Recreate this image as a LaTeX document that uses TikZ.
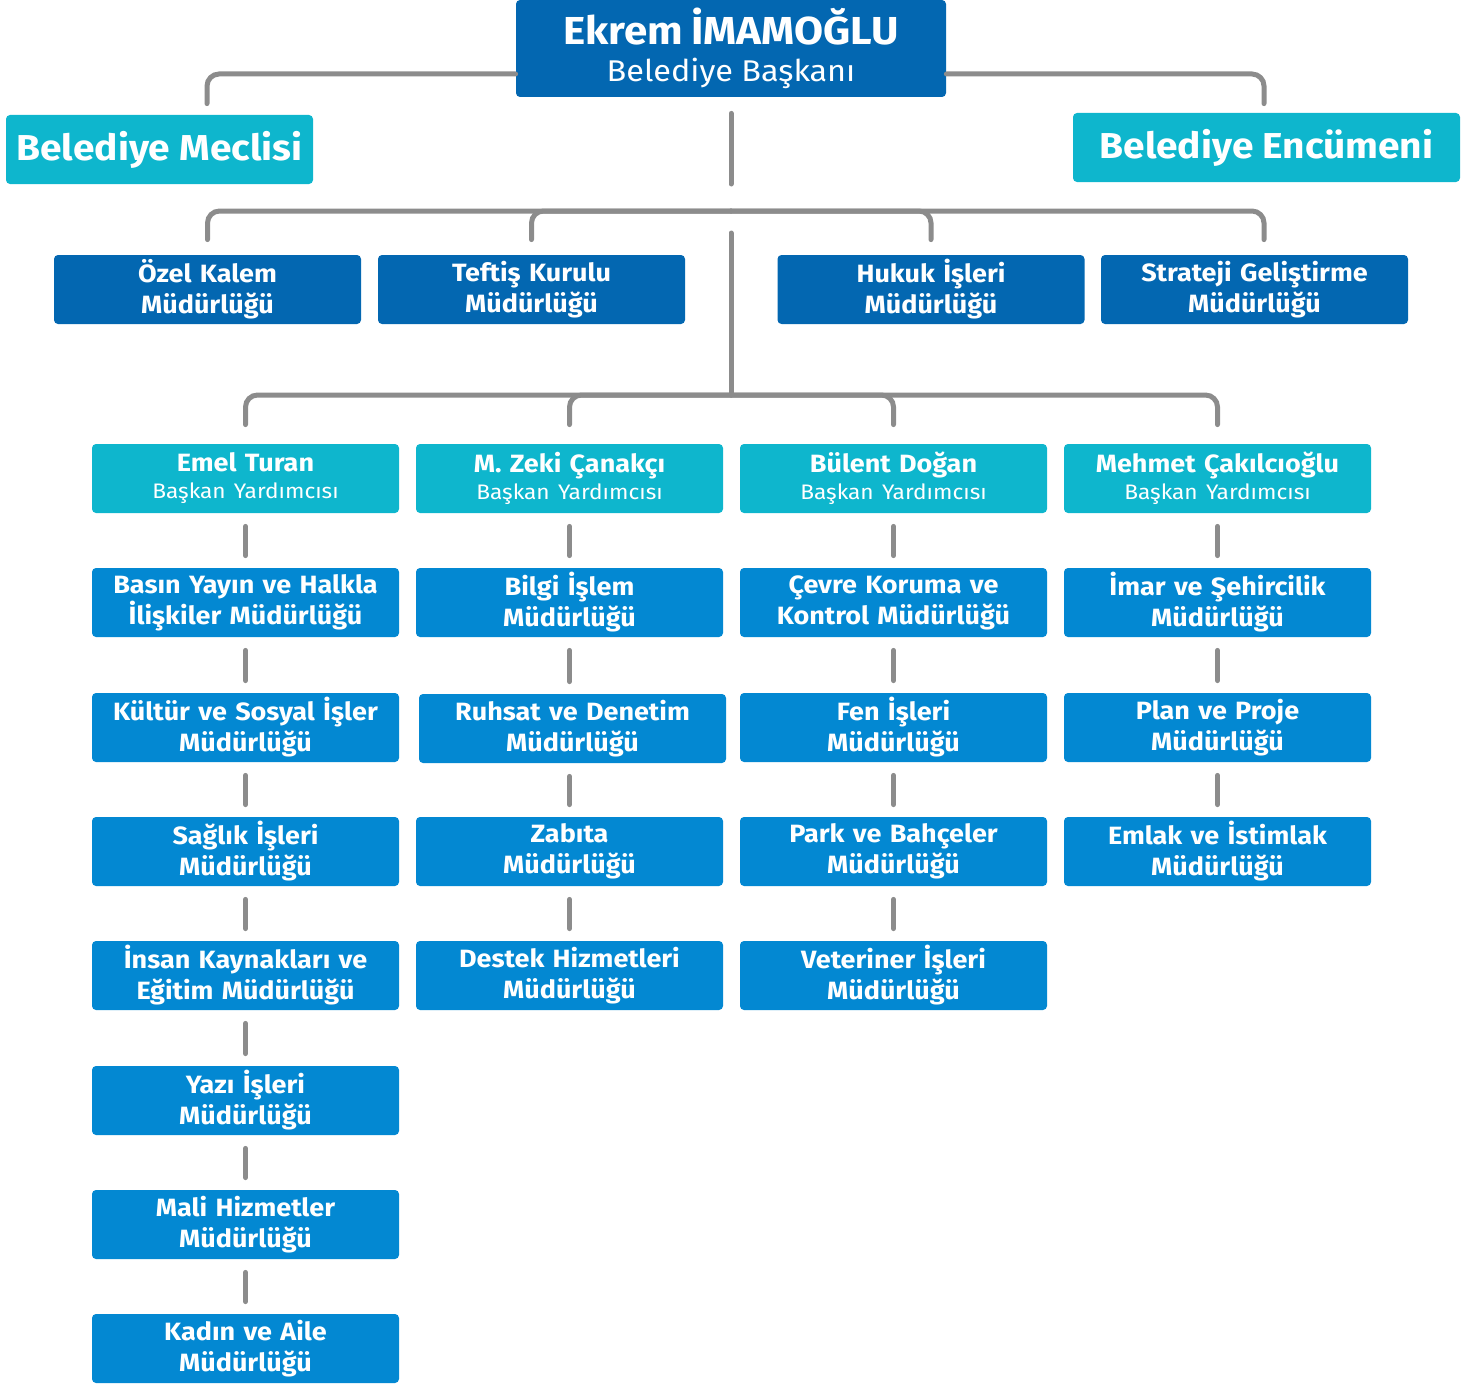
\documentclass[tikz,border=0pt]{standalone}
\usepackage{fontspec}
\setmainfont{Fira Sans}[FakeStretch=1.08]
\usetikzlibrary{positioning}
\definecolor{darkblue}{HTML}{0367B1}
\definecolor{midblue}{HTML}{0388D2}
\definecolor{teal}{HTML}{0EB6CD}
\definecolor{linegray}{HTML}{8C8C8C}
\begin{document}
\begin{tikzpicture}[x=0.5pt,y=-0.5pt,
    box/.style={rounded corners=2pt, text=white, align=center, text width=150pt,
      inner xsep=1.75pt, inner ysep=0pt, minimum height=34.5pt,
      font=\fontsize{12.5}{15.5}\selectfont\bfseries},
    topunit/.style={box, fill=darkblue},
    unit/.style={box, fill=midblue},
    deputy/.style={box, fill=teal},
    council/.style={rounded corners=2pt, fill=teal, text=white, inner sep=0pt,
      minimum height=34.5pt, font=\fontsize{18}{20}\selectfont\bfseries},
    link/.style={draw=linegray, line width=2.5pt, line cap=round, rounded corners=6pt}]

            \useasboundingbox (0,0) rectangle (1478,1386);

            \node[box, fill=darkblue, text width=211.5pt, minimum height=48.5pt] (mayor) at (731,48.5)
                {{\fontsize{19.5}{19.5}\selectfont\bfseries Ekrem İMAMOĞLU}\\[3pt]{\fontsize{15}{16}\selectfont\mdseries Belediye Başkanı}};

            \node[council, minimum width=153.5pt] (meclis) at (159.5,149.5) {Belediye Meclisi};
            \node[council, minimum width=193.5pt] (encumen) at (1266.5,147.5) {Belediye Encümeni};

            \node[topunit] (kalem) at (207.5,289.5) {Özel Kalem\\Müdürlüğü};
            \node[topunit] (teftis) at (531.5,289.5) {Teftiş Kurulu\\Müdürlüğü};
            \node[topunit] (hukuk) at (931,289.5) {Hukuk İşleri\\Müdürlüğü};
            \node[topunit] (strateji) at (1254.5,289.5) {Strateji Geliştirme\\Müdürlüğü};

            \node[deputy] (turan) at (245.5,478.5) {Emel Turan\\[-2pt]{\fontsize{10.5}{12}\selectfont\mdseries Başkan Yardımcısı}};
            \node[deputy] (canakci) at (569.5,478.5) {M. Zeki Çanakçı\\[-2pt]{\fontsize{10.5}{12}\selectfont\mdseries Başkan Yardımcısı}};
            \node[deputy] (dogan) at (893.5,478.5) {Bülent Doğan\\[-2pt]{\fontsize{10.5}{12}\selectfont\mdseries Başkan Yardımcısı}};
            \node[deputy] (cakilcioglu) at (1217.5,478.5) {Mehmet Çakılcıoğlu\\[-2pt]{\fontsize{10.5}{12}\selectfont\mdseries Başkan Yardımcısı}};

            \node[unit] (basin) at (245.5,602.5) {Basın Yayın ve Halkla\\İlişkiler Müdürlüğü};
            \node[unit] (kultur) at (245.5,727.5) {Kültür ve Sosyal İşler\\Müdürlüğü};
            \node[unit] (saglik) at (245.5,851.5) {Sağlık İşleri\\Müdürlüğü};
            \node[unit] (insan) at (245.5,975.5) {İnsan Kaynakları ve\\Eğitim Müdürlüğü};
            \node[unit] (yazi) at (245.5,1100.5) {Yazı İşleri\\Müdürlüğü};
            \node[unit] (mali) at (245.5,1224.5) {Mali Hizmetler\\Müdürlüğü};
            \node[unit] (kadin) at (245.5,1348.5) {Kadın ve Aile\\Müdürlüğü};

            \node[unit] (bilgi) at (569.5,602.5) {Bilgi İşlem\\Müdürlüğü};
            \node[unit] (ruhsat) at (572.5,728.5) {Ruhsat ve Denetim\\Müdürlüğü};
            \node[unit] (zabita) at (569.5,851.5) {Zabıta\\Müdürlüğü};
            \node[unit] (destek) at (569.5,975.5) {Destek Hizmetleri\\Müdürlüğü};

            \node[unit] (cevre) at (893.5,602.5) {Çevre Koruma ve\\Kontrol Müdürlüğü};
            \node[unit] (fen) at (893.5,727.5) {Fen İşleri\\Müdürlüğü};
            \node[unit] (park) at (893.5,851.5) {Park ve Bahçeler\\Müdürlüğü};
            \node[unit] (veteriner) at (893.5,975.5) {Veteriner İşleri\\Müdürlüğü};

            \node[unit] (imar) at (1217.5,602.5) {İmar ve Şehircilik\\Müdürlüğü};
            \node[unit] (plan) at (1217.5,727.5) {Plan ve Proje\\Müdürlüğü};
            \node[unit] (emlak) at (1217.5,851.5) {Emlak ve İstimlak\\Müdürlüğü};

            \coordinate (hubA) at (731,184);
            \coordinate (hubB) at (731,211);
            \coordinate (hubC) at (731,395);

            \draw[link] ([yshift=-12.75pt]mayor.west) -| ([xshift=23.75pt,yshift=5.5pt]meclis.north);
            \draw[link] ([yshift=-12.75pt]mayor.east) -| ([xshift=-1.25pt,yshift=4.5pt]encumen.north);
            \draw[link] ([yshift=-8pt]mayor.south) -- (hubA);

            \draw[link] (hubB) -| ([yshift=7.5pt]kalem.north);
            \draw[link] (hubB) -| ([yshift=7.5pt]teftis.north);
            \draw[link] (hubB) -| ([yshift=7.5pt]hukuk.north);
            \draw[link] (hubB) -| ([xshift=4.75pt,yshift=7.5pt]strateji.north);
            \draw[link] ([yshift=-11pt]hubB) -- (hubC);

            \draw[link] (hubC) -| ([yshift=9.5pt]turan.north);
            \draw[link] (hubC) -| ([yshift=9.5pt]canakci.north);
            \draw[link] (hubC) -| ([yshift=9.5pt]dogan.north);
            \draw[link] (hubC) -| ([yshift=9.5pt]cakilcioglu.north);

            \draw[link, shorten <=6.5pt, shorten >=6pt] (turan.south) -- (basin.north);
            \draw[link, shorten <=6.5pt, shorten >=6pt] (basin.south) -- (kultur.north);
            \draw[link, shorten <=6.5pt, shorten >=6pt] (kultur.south) -- (saglik.north);
            \draw[link, shorten <=6.5pt, shorten >=6pt] (saglik.south) -- (insan.north);
            \draw[link, shorten <=6.5pt, shorten >=6pt] (insan.south) -- (yazi.north);
            \draw[link, shorten <=6.5pt, shorten >=6pt] (yazi.south) -- (mali.north);
            \draw[link, shorten <=6.5pt, shorten >=6pt] (mali.south) -- (kadin.north);

            \draw[link, shorten <=6.5pt, shorten >=6pt] (canakci.south) -- (bilgi.north);
            \draw[link, shorten <=6.5pt, shorten >=6pt] (bilgi.south) -- (bilgi.south |- ruhsat.north);
            \draw[link, shorten <=6.5pt, shorten >=6pt] (bilgi.south |- ruhsat.south) -- (zabita.north);
            \draw[link, shorten <=6.5pt, shorten >=6pt] (zabita.south) -- (destek.north);

            \draw[link, shorten <=6.5pt, shorten >=6pt] (dogan.south) -- (cevre.north);
            \draw[link, shorten <=6.5pt, shorten >=6pt] (cevre.south) -- (fen.north);
            \draw[link, shorten <=6.5pt, shorten >=6pt] (fen.south) -- (park.north);
            \draw[link, shorten <=6.5pt, shorten >=6pt] (park.south) -- (veteriner.north);

            \draw[link, shorten <=6.5pt, shorten >=6pt] (cakilcioglu.south) -- (imar.north);
            \draw[link, shorten <=6.5pt, shorten >=6pt] (imar.south) -- (plan.north);
            \draw[link, shorten <=6.5pt, shorten >=6pt] (plan.south) -- (emlak.north);

          \end{tikzpicture}
\end{document}
